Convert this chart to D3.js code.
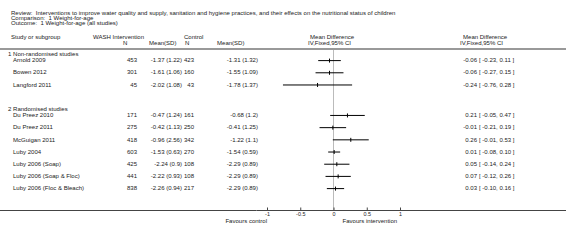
<!DOCTYPE html>
<html>
<head>
<meta charset="utf-8">
<script src="https://cdn.jsdelivr.net/npm/d3@7"></script>
<style>
  body { margin: 0; background: #fff; }
  svg text { font-family: "Liberation Sans", Arial, sans-serif; fill: #222; white-space: pre; }
</style>
</head>
<body>
<div id="container"></div>
<script>
/* CONSTANTS AND GLOBALS */
const width = 566,
  height = 240,
  fs = 5.4,      // font size
  sx = 1.12;     // the source picture's text is a bit wider than tall

/* DATA */
const titleLines = [
  "Review:  Interventions to improve water quality and supply, sanitation and hygiene practices, and their effects on the nutritional status of children",
  "Comparison:  1 Weight-for-age",
  "Outcome:  1 Weight-for-age (all studies)"
];
const groups = ["1 Non-randomised studies", "2 Randomised studies"];
const studies = ["Arnold 2009", "Bowen 2012", "Langford 2011",
  "Du Preez 2010", "Du Preez 2011", "McGuigan 2011", "Luby 2004",
  "Luby 2006 (Soap)", "Luby 2006 (Soap & Floc)", "Luby 2006 (Floc & Bleach)"];
const studyGroup = [0, 0, 0, 1, 1, 1, 1, 1, 1, 1];
const washN = [453, 301, 45, 171, 275, 418, 603, 425, 441, 838];
const washMeanSD = ["-1.37 (1.22)", "-1.61 (1.06)", "-2.02 (1.08)", "-0.47 (1.24)", "-0.42 (1.13)",
  "-0.96 (2.56)", "-1.53 (0.63)", "-2.24 (0.9)", "-2.22 (0.93)", "-2.26 (0.94)"];
const ctrlN = [423, 160, 43, 161, 250, 342, 270, 108, 108, 217];
const ctrlMeanSD = ["-1.31 (1.32)", "-1.55 (1.09)", "-1.78 (1.37)", "-0.68 (1.2)", "-0.41 (1.25)",
  "-1.22 (1.1)", "-1.54 (0.59)", "-2.29 (0.89)", "-2.29 (0.89)", "-2.29 (0.89)"];
const md = [-0.06, -0.06, -0.24, 0.21, -0.01, 0.26, 0.01, 0.05, 0.07, 0.03];
const lo = [-0.23, -0.27, -0.76, -0.05, -0.21, -0.01, -0.08, -0.14, -0.12, -0.10];
const hi = [0.11, 0.15, 0.28, 0.47, 0.19, 0.53, 0.10, 0.24, 0.26, 0.16];
const axisTicks = [-1, -0.5, 0, 0.5, 1];

// row slots: group label, then its studies half a slot below
const slots = [];
let s = 0;
groups.forEach((g, gi) => {
  slots.push({ type: "group", label: g, slot: s });
  studies.forEach((name, i) => {
    if (studyGroup[i] !== gi) return;
    slots.push({ type: "study", i: i, slot: s + 0.5 });
    s += 1;
  });
  s += 1.5;
});

/* SCALES */
const xScale = d3.scaleLinear().domain([-1, 1]).range([267, 400]);
const yScale = d3.scaleLinear().domain([0, 10.5]).range([54, 182]);
const axisY = 210;

/* SVG */
const svg = d3.select("#container").append("svg")
  .attr("width", width).attr("height", height);

// put text at (x, y) baseline, stretched horizontally
function place(sel, x, y) {
  return sel.attr("transform", (d, i) => `translate(${x(d, i)},${y(d, i)}) scale(${sx},1)`)
    .attr("font-size", fs);
}

// title
place(svg.selectAll("text.title").data(titleLines).join("text").attr("class", "title"),
  () => 11, (d, i) => 14.5 + i * 5.2)
  .text(d => d);

// column headers
const hdr = [
  { t: "Study or subgroup", x: 11, y: 39 },
  { t: "WASH Intervention", x: 93, y: 39 },
  { t: "N", x: 123, y: 44.5 },
  { t: "Mean(SD)", x: 149, y: 44.5 },
  { t: "Control", x: 184, y: 39 },
  { t: "N", x: 185, y: 44.5 },
  { t: "Mean(SD)", x: 217, y: 44.5 },
  { t: "Mean Difference", x: 310, y: 39 },
  { t: "IV,Fixed,95% CI", x: 308, y: 44.5 },
  { t: "Mean Difference", x: 463, y: 39 },
  { t: "IV,Fixed,95% CI", x: 460, y: 44.5 }
];
place(svg.selectAll("text.hdr").data(hdr).join("text").attr("class", "hdr"),
  d => d.x, d => d.y)
  .text(d => d.t);

// header rule
svg.append("line")
  .attr("x1", 0).attr("x2", width)
  .attr("y1", 49).attr("y2", 49)
  .attr("stroke", "#999").attr("stroke-width", 2);

// zero line
svg.append("line")
  .attr("x1", xScale(0)).attr("x2", xScale(0))
  .attr("y1", 50).attr("y2", axisY)
  .attr("stroke", "#bbb").attr("stroke-width", 1);

// group labels
place(svg.selectAll("text.group").data(slots.filter(d => d.type === "group")).join("text").attr("class", "group"),
  () => 8, d => yScale(d.slot) + 2)
  .text(d => d.label);

const rows = svg.selectAll("g.row").data(slots.filter(d => d.type === "study")).join("g")
  .attr("class", "row")
  .attr("transform", d => `translate(0,${yScale(d.slot)})`);

const cols = [
  { x: 13, anchor: "start", f: i => studies[i] },
  { x: 137, anchor: "end", f: i => washN[i] },
  { x: 182, anchor: "end", f: i => washMeanSD[i] },
  { x: 194, anchor: "end", f: i => ctrlN[i] },
  { x: 258, anchor: "end", f: i => ctrlMeanSD[i] },
  { x: 477, anchor: "end", f: i => md[i].toFixed(2) },
  { x: 479, anchor: "start", f: i => `[ ${lo[i].toFixed(2)}, ${hi[i].toFixed(2)} ]` }
];
cols.forEach(c => {
  place(rows.append("text"), () => c.x, () => 2.2)
    .attr("text-anchor", c.anchor)
    .text(d => c.f(d.i));
});

// CI lines and point marks
rows.append("line")
  .attr("x1", d => xScale(lo[d.i])).attr("x2", d => xScale(hi[d.i]))
  .attr("y1", 0.5).attr("y2", 0.5)
  .attr("stroke", "#000").attr("stroke-width", 1);
rows.append("line")
  .attr("x1", d => xScale(md[d.i])).attr("x2", d => xScale(md[d.i]))
  .attr("y1", -1.5).attr("y2", 2.5)
  .attr("stroke", "#000").attr("stroke-width", 1);

// axis
svg.append("line")
  .attr("x1", 0).attr("x2", width)
  .attr("y1", axisY + 0.5).attr("y2", axisY + 0.5)
  .attr("stroke", "#444").attr("stroke-width", 1);

const xAxis = d3.axisBottom(xScale)
  .tickValues(axisTicks)
  .tickSize(-3)
  .tickPadding(2)
  .tickFormat(d => String(d));
const ax = svg.append("g")
  .attr("transform", `translate(0,${axisY + 0.5})`)
  .call(xAxis);
ax.select(".domain").remove();
ax.selectAll("line").attr("stroke", "#444");
ax.selectAll("text")
  .attr("font-size", fs)
  .attr("font-family", "Liberation Sans, Arial, sans-serif")
  .attr("fill", "#222");

place(svg.append("text").datum(0), () => xScale(-1), () => axisY + 12.5)
  .attr("text-anchor", "end")
  .text("Favours control");
place(svg.append("text").datum(0), () => xScale(0) + 9, () => axisY + 12.5)
  .text("Favours intervention");
</script>
</body>
</html>
